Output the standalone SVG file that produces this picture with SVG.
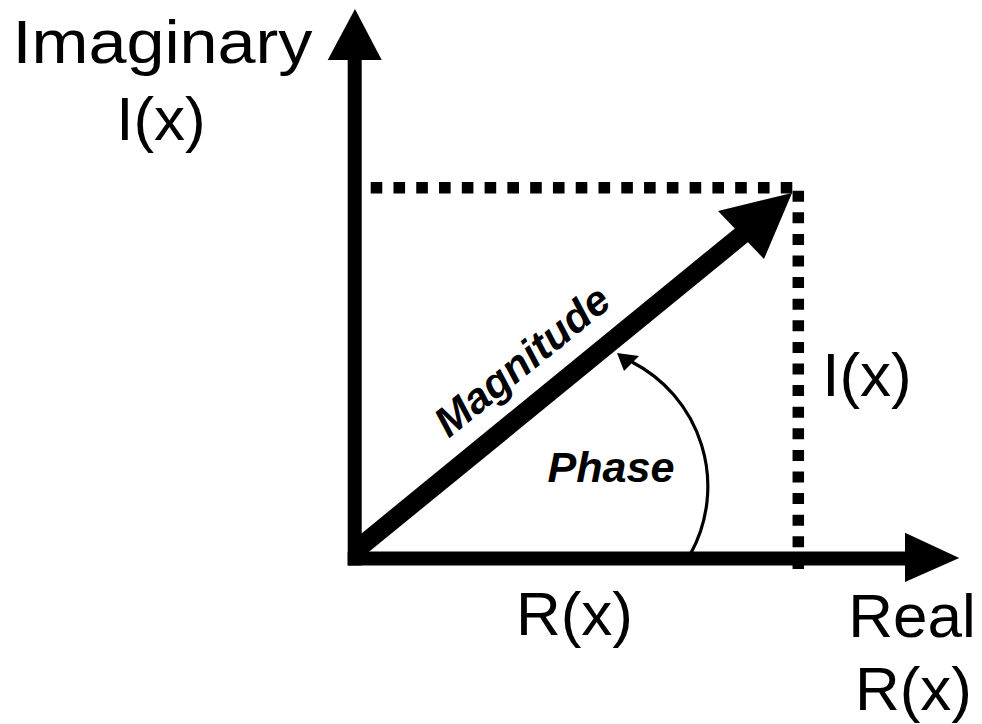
<svg xmlns="http://www.w3.org/2000/svg" width="982" height="724" viewBox="0 0 982 724">
  <style>
    .lbl { font-family: "Liberation Sans", Arial, Helvetica, sans-serif; font-size: 62px; fill: #000; text-anchor: middle; }
    .bi { font-family: "Liberation Sans", Arial, Helvetica, sans-serif; font-size: 42px; font-weight: bold; font-style: italic; fill: #000; text-anchor: middle; }
    .axis { stroke: #000; stroke-width: 14; fill: none; }
    .dot { stroke: #000; stroke-width: 11.5; fill: none; }
    .head { fill: #000; stroke: none; }
  </style>
  <rect width="982" height="724" fill="#fff"/>

  <g id="connectors">
    <g id="imag-axis">
      <line class="axis" x1="354.7" y1="565.5" x2="354.7" y2="58"/>
      <polygon class="head" points="355,9 381.7,60 327.7,60"/>
    </g>
    <g id="real-axis">
      <line class="axis" x1="347.7" y1="558.5" x2="907" y2="558.5"/>
      <polygon class="head" points="959.3,558 905,532.7 905,582"/>
    </g>
    <g id="guides">
      <line class="dot" x1="370.7" y1="187.8" x2="792.3" y2="187.8" stroke-dasharray="11.6 11.18"/>
      <line class="dot" x1="798.3" y1="190.7" x2="798.3" y2="569" stroke-dasharray="11 10.6"/>
    </g>
    <g id="magnitude-vector">
      <line stroke="#000" stroke-width="19" x1="355" y1="551" x2="743" y2="234"/>
      <polygon class="head" points="792,193 718,211 764,259"/>
    </g>
    <g id="phase-arc">
      <path d="M 691 553 A 140 140 0 0 0 632 362" stroke="#000" stroke-width="3.2" fill="none"/>
      <polygon class="head" points="617,353 639,356 624,371"/>
    </g>
  </g>

  <g id="label-imaginary">
    <text class="lbl" x="162.5" y="63" textLength="300" lengthAdjust="spacingAndGlyphs">Imaginary</text>
    <text class="lbl" x="161" y="140">I(x)</text>
  </g>
  <g id="label-real">
    <text class="lbl" x="912" y="637">Real</text>
    <text class="lbl" x="913.5" y="710">R(x)</text>
  </g>
  <g id="label-rx">
    <text class="lbl" x="574.5" y="635">R(x)</text>
  </g>
  <g id="label-ix">
    <text class="lbl" x="867" y="396">I(x)</text>
  </g>
  <g id="label-magnitude">
    <text class="bi" transform="translate(531,372) rotate(-39.1)" textLength="212" lengthAdjust="spacingAndGlyphs">Magnitude</text>
  </g>
  <g id="label-phase">
    <text class="bi" x="611" y="481.7" textLength="127" lengthAdjust="spacingAndGlyphs">Phase</text>
  </g>
</svg>
